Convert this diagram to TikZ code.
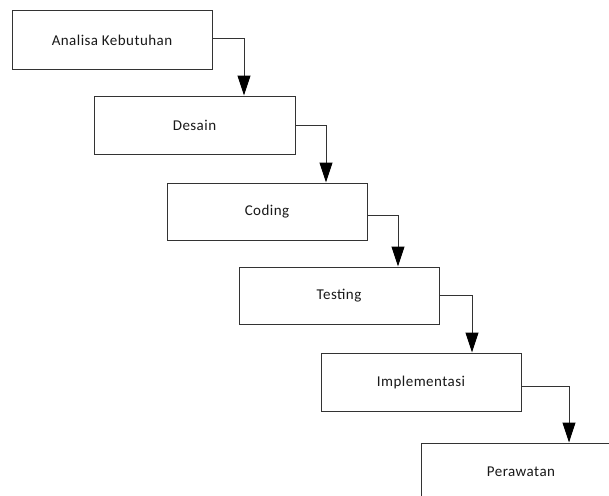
\documentclass[tikz,border=0pt]{standalone}
\usepackage{fontspec}
\setmainfont{Carlito}
\usetikzlibrary{arrows.meta}
\tikzset{
  stagebox/.style={draw=black!80, line width=1pt, fill=white, minimum width=200pt, minimum height=57pt, inner sep=0pt, font=\fontsize{15}{18}\selectfont\addfontfeature{LetterSpace=3}, text=black!90},
  flowarrow/.style={draw=black!80, line width=1pt, -{Triangle[width=13pt,length=20pt,color=black,fill=black]}}
}
\begin{document}
\begin{tikzpicture}[x=1pt,y=-1pt]
\useasboundingbox (0,0) rectangle (609,495);
\clip (0,0) rectangle (609,495);
\fill[white] (0,0) rectangle (609,495);
\node[stagebox, minimum height=58pt] (b1) at (112,40) {Analisa Kebutuhan};
\node[stagebox, minimum width=201pt, minimum height=58pt] (b2) at (194.5,125) {Desain};
\node[stagebox] (b3) at (267,211.5) {Coding};
\node[stagebox] (b4) at (339,295.5) {Testing};
\node[stagebox, minimum height=58pt] (b5) at (421,382) {Implementasi};
\node[stagebox] (b6) at (521,471.5) {Perawatan};
\draw[flowarrow] ([yshift=1pt]b1.east) -| ([xshift=49.5pt]b2.north);
\draw[flowarrow] (b2.east) -| ([xshift=59pt]b3.north);
\draw[flowarrow] ([yshift=-4pt]b3.east) -| ([xshift=59pt]b4.north);
\draw[flowarrow] (b4.east) -| ([xshift=51pt]b5.north);
\draw[flowarrow] ([yshift=-4pt]b5.east) -| ([xshift=48pt]b6.north);
\end{tikzpicture}
\end{document}
